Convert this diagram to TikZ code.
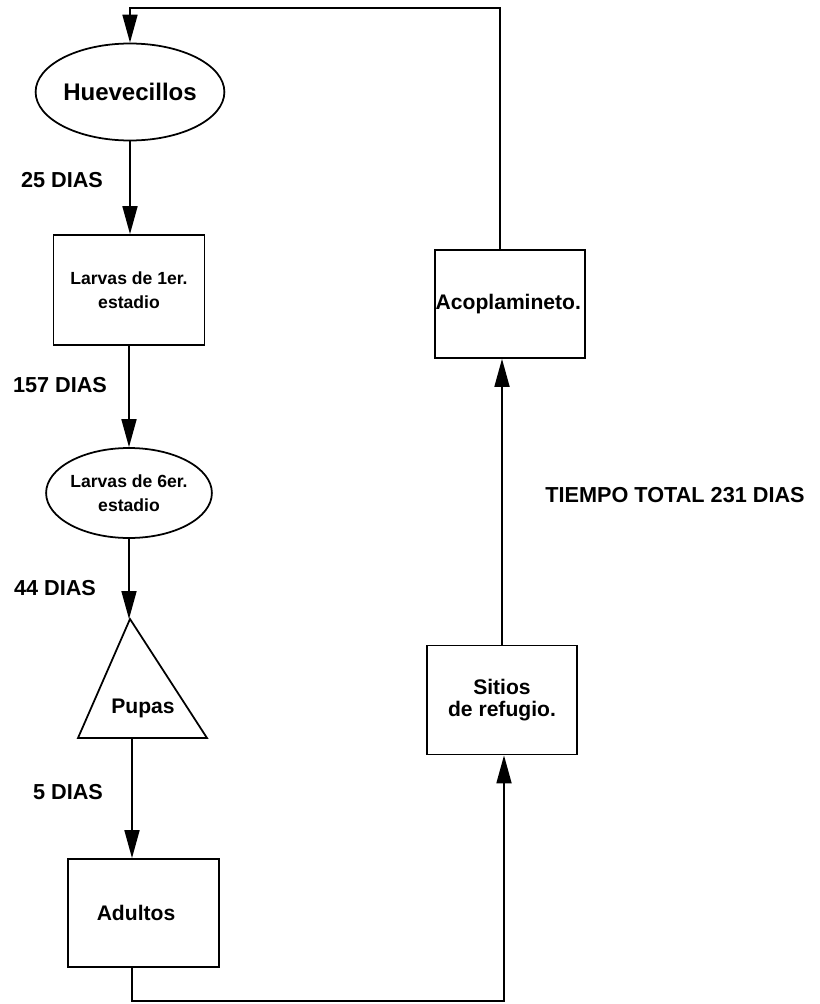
\documentclass[tikz,border=0pt]{standalone}
\usepackage{fontspec}
\setmainfont{Liberation Sans}
\usetikzlibrary{arrows.meta,shapes.geometric}

\begin{document}
\begin{tikzpicture}[x=0.03cm, y=-0.03cm, line width=1.5pt,
    flecha/.style={-{Triangle[length=0.84cm, width=0.45cm]}},
    caja/.style={draw, rectangle, inner sep=0pt, align=center},
    ovalo/.style={draw, ellipse, inner sep=0pt, align=center},
    dias/.style={font=\fontsize{18.5}{20}\selectfont\bfseries}]
    \useasboundingbox (0,0) rectangle (820,1004);

    % ciclo de vida
    \node[ovalo, minimum width=4.8cm, minimum height=2.91cm,
        font=\fontsize{20.5}{22}\selectfont\bfseries] (huev) at (130,92) {Huevecillos};
    \node[caja, minimum width=4.53cm, minimum height=3.3cm,
        font=\fontsize{15}{20.5}\selectfont\bfseries] (larv1) at (129,290) {Larvas de 1er.\\estadio};
    \node[ovalo, minimum width=4.56cm, minimum height=2.7cm,
        font=\fontsize{15}{20.5}\selectfont\bfseries] (larv6) at (129,493) {Larvas de 6er.\\estadio};
    \coordinate (pupTop) at (130,619);
    \coordinate (pupBase) at (132,738);
    \draw (pupTop) -- (207,738) -- (78,738) -- cycle;
    \node[font=\fontsize{18}{20}\selectfont\bfseries] (pupas) at (143,708) {Pupas};
    \node[caja, minimum width=4.53cm, minimum height=3.24cm,
        font=\fontsize{18}{20}\selectfont\bfseries] (adult) at (143.5,913) {\hspace*{-0.45cm}Adultos};
    \node[caja, minimum width=4.5cm, minimum height=3.27cm,
        font=\fontsize{18}{19}\selectfont\bfseries] (sitios) at (502,700) {Sitios\\de refugio.};
    \node[caja, minimum width=4.5cm, minimum height=3.24cm,
        font=\fontsize{18}{20}\selectfont\bfseries] (acop) at (510,304) {\hspace*{-0.1cm}Acoplamineto.};

    % tiempos
    \node[dias] (t25) at (62,180) {25 DIAS};
    \node[dias] (t157) at (60,385) {157 DIAS};
    \node[dias] (t44) at (55,588) {44 DIAS};
    \node[dias] (t5) at (68,792) {5 DIAS};
    \node[dias] (total) at (675,495) {TIEMPO TOTAL 231 DIAS};

    % flechas
    \draw[flecha] (huev.south) -- (huev.south |- larv1.north);
    \draw[flecha] (larv1.south) -- (larv1.south |- larv6.north);
    \draw[flecha] (larv6.south) -- (larv6.south |- pupTop);
    \draw[flecha] (pupBase) -- (pupBase |- adult.north);
    \coordinate (bajoIzq) at (132,1001);
    \coordinate (bajoDer) at (504,1001);
    \draw[flecha] (adult.south -| bajoIzq) -- (bajoIzq) -- (bajoDer) -- (sitios.south -| bajoDer);
    \draw[flecha] (sitios.north) -- (sitios.north |- acop.south);
    \coordinate (arribaDer) at (500,8);
    \coordinate (arribaIzq) at (130,8);
    \draw[flecha] (acop.north -| arribaDer) -- (arribaDer) -- (arribaIzq) -- (huev.north -| arribaIzq);
\end{tikzpicture}
\end{document}
